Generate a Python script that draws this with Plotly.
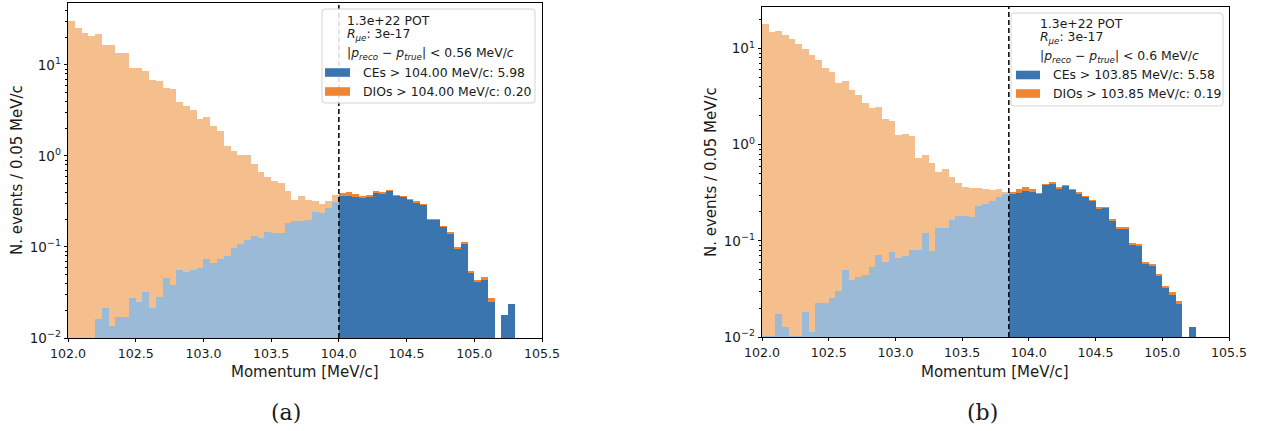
import plotly.graph_objects as go

# ---------------- data ----------------
BIN_W = 0.05
START = 102.0

# Panel (a): cut at 104.00 MeV/c
cut_a = 104.00
ce_a = [0, 0, 0, 0, 0.016, 0.0216, 0.0137, 0.0171, 0.0171, 0.0273,
        0.0249, 0.0318, 0.0216, 0.0283, 0.046, 0.0385, 0.0557, 0.053, 0.0557, 0.0586,
        0.0734, 0.067, 0.0734, 0.079, 0.098, 0.109, 0.118, 0.132, 0.125, 0.146,
        0.144, 0.142, 0.185, 0.195, 0.195, 0.197, 0.24, 0.235, 0.27, 0.31,
        0.366, 0.366, 0.357, 0.351, 0.357, 0.398, 0.388, 0.415, 0.366, 0.357,
        0.329, 0.31, 0.292, 0.199, 0.2, 0.168, 0.142, 0.096, 0.109, 0.0513,
        0.0415, 0.0444, 0.0251, 0, 0.018, 0.0236]
dio_a = [30.7, 25.3, 22.3, 21.0, 21.9, 16.6, 16.6, 13.6, 13.6, 9.27,
         9.28, 8.57, 6.78, 6.57, 5.55, 5.41, 3.89, 3.45, 3.14, 2.47,
         2.59, 2.08, 1.83, 1.21, 1.03, 0.92, 0.91, 0.68, 0.545, 0.444,
         0.386, 0.358, 0.225, 0.135, 0.165, 0.133, 0.08, 0.065, 0.05, 0.06,
         0.022, 0.032, 0.025, 0.006, 0.009, 0.017, 0.017, 0.007, 0.006, 0.003,
         0.003, 0.003, 0.003, 0.002, 0.002, 0.002, 0.002, 0.002, 0.003, 0.0034,
         0.002, 0.002, 0.0027, 0, 0, 0]

# Panel (b): cut at 103.85 MeV/c
cut_b = 103.85
ce_b = [0.0102, 0.0102, 0.0173, 0.0128, 0.0103, 0.0103, 0.0182, 0.0114, 0.0228, 0.0228,
        0.0254, 0.0302, 0.0499, 0.0393, 0.0425, 0.0443, 0.054, 0.0715, 0.061, 0.0762,
        0.0671, 0.0698, 0.0805, 0.0805, 0.12, 0.0787, 0.135, 0.135, 0.166, 0.182,
        0.182, 0.179, 0.228, 0.241, 0.263, 0.285, 0.313, 0.308, 0.318, 0.334,
        0.326, 0.308, 0.383, 0.398, 0.353, 0.373, 0.34, 0.313, 0.289, 0.263,
        0.219, 0.223, 0.163, 0.135, 0.135, 0.0909, 0.09, 0.0577, 0.055, 0.0436,
        0.0322, 0.0274, 0.0219, 0, 0.0126]
dio_b = [17.89, 14.89, 15.08, 13.69, 12.69, 11.29, 9.98, 8.49, 7.68, 6.28,
         5.67, 4.40, 4.55, 3.70, 3.22, 2.68, 2.36, 2.40, 1.81, 1.71,
         1.21, 1.21, 1.14, 0.64, 0.67, 0.56, 0.385, 0.425, 0.294, 0.218,
         0.185, 0.18, 0.125, 0.104, 0.077, 0.06, 0.013, 0.018, 0.027, 0.033,
         0.019, 0.005, 0.002, 0.006, 0.003, 0.003, 0.003, 0.002, 0.002, 0.002,
         0.002, 0.002, 0.002, 0.002, 0.002, 0.002, 0.002, 0.002, 0.002, 0.002,
         0.002, 0.002, 0.002, 0, 0]

x_ticks = [102.0, 102.5, 103.0, 103.5, 104.0, 104.5, 105.0, 105.5]
x_ticktext = ["102.0", "102.5", "103.0", "103.5", "104.0", "104.5", "105.0", "105.5"]
y_ticks = [0.01, 0.1, 1, 10]
y_ticktext = ["10<sup>\u22122</sup>", "10<sup>\u22121</sup>", "10<sup>0</sup>", "10<sup>1</sup>"]

legend_a = ["1.3e+22 POT", "<i>R</i><sub><i>\u03bce</i></sub>: 3e-17",
            "|<i>p</i><sub><i>reco</i></sub> \u2212 <i>p</i><sub><i>true</i></sub>| &lt; 0.56 MeV/<i>c</i>",
            "CEs &gt; 104.00 MeV/c: 5.98", "DIOs &gt; 104.00 MeV/c: 0.20"]
legend_b = ["1.3e+22 POT", "<i>R</i><sub><i>\u03bce</i></sub>: 3e-17",
            "|<i>p</i><sub><i>reco</i></sub> \u2212 <i>p</i><sub><i>true</i></sub>| &lt; 0.6 MeV/<i>c</i>",
            "CEs &gt; 103.85 MeV/c: 5.58", "DIOs &gt; 103.85 MeV/c: 0.19"]

# ---------------- styling ----------------
W, H = 1261, 431
BLUE = "#3b75af"
ORANGE = "#ef8636"
LBLUE = "#9bbad7"
LORANGE = "#f5bf8d"
FONT = "DejaVu Sans"
TXT = "#1a1a1a"


def px(x):
    return x / W


def py(y):
    return 1 - y / H


def centers(n):
    return [round(START + BIN_W * (i + 0.5), 4) for i in range(n)]


fig = go.Figure()


def add_panel(ce, dio, cut, xa, ya):
    xs = centers(len(ce))
    lo = [i for i, x in enumerate(xs) if x < cut]
    hi = [i for i, x in enumerate(xs) if x >= cut]
    common = dict(width=BIN_W, marker_line_width=0, showlegend=False,
                  xaxis=xa, yaxis=ya, hoverinfo="x+y")
    fig.add_trace(go.Bar(x=[xs[i] for i in lo], y=[ce[i] if ce[i] > 0 else None for i in lo],
                         marker_color=LBLUE, **common))
    fig.add_trace(go.Bar(x=[xs[i] for i in hi], y=[ce[i] if ce[i] > 0 else None for i in hi],
                         marker_color=BLUE, **common))
    fig.add_trace(go.Bar(x=[xs[i] for i in lo], y=[dio[i] if dio[i] > 0 else None for i in lo],
                         marker_color=LORANGE, **common))
    fig.add_trace(go.Bar(x=[xs[i] for i in hi], y=[dio[i] if dio[i] > 0 else None for i in hi],
                         marker_color=ORANGE, **common))


add_panel(ce_a, dio_a, cut_a, "x", "y")
add_panel(ce_b, dio_b, cut_b, "x2", "y2")

minor_vals = [m * 10 ** e for e in (-2, -1, 0, 1) for m in range(2, 10)]


def xaxis_cfg(x0, x1):
    return dict(domain=[px(x0), px(x1)], range=[102.0, 105.5], tickvals=x_ticks, ticktext=x_ticktext,
                ticks="outside", ticklen=3.5, tickwidth=0.8, tickcolor="black",
                showline=True, mirror=True, linecolor="black", linewidth=0.8,
                showgrid=False, zeroline=False, automargin=False,
                tickfont=dict(family=FONT, size=12.6, color=TXT))


def yaxis_cfg(y_top, y_bot, top_log, anchor):
    return dict(domain=[py(y_bot), py(y_top)], type="log", range=[-2, top_log],
                tickvals=y_ticks, ticktext=y_ticktext, anchor=anchor,
                ticks="outside", ticklen=3.5, tickwidth=0.8, tickcolor="black",
                minor=dict(tickvals=minor_vals, ticks="outside", ticklen=2, tickwidth=0.6,
                           tickcolor="black", showgrid=False),
                showline=True, mirror=True, linecolor="black", linewidth=0.8,
                showgrid=False, zeroline=False, automargin=False,
                tickfont=dict(family=FONT, size=13.5, color=TXT))


fig.update_layout(
    width=W, height=H, margin=dict(l=0, r=0, t=0, b=0, autoexpand=False),
    paper_bgcolor="white", plot_bgcolor="white",
    barmode="stack", bargap=0,
    xaxis=xaxis_cfg(68, 542) | dict(anchor="y"),
    yaxis=yaxis_cfg(3, 338, 1.681, "x"),
    xaxis2=xaxis_cfg(762, 1229) | dict(anchor="y2"),
    yaxis2=yaxis_cfg(7, 337, 1.433, "x2"),
)

shapes = []
annotations = []

# cut lines
for cut, xr, yr in ((cut_a, "x", "y domain"), (cut_b, "x2", "y2 domain")):
    shapes.append(dict(type="line", xref=xr, yref=yr, x0=cut, x1=cut, y0=0, y1=1,
                       line=dict(color="black", width=1.5, dash="5px,3px"), layer="above"))


def rounded_box(x0, y0, x1, y1, r=3):
    def P(x, y):
        return f"{px(x):.5f},{py(y):.5f}"
    return (f"M {P(x0 + r, y0)} L {P(x1 - r, y0)} Q {P(x1, y0)} {P(x1, y0 + r)} "
            f"L {P(x1, y1 - r)} Q {P(x1, y1)} {P(x1 - r, y1)} L {P(x0 + r, y1)} "
            f"Q {P(x0, y1)} {P(x0, y1 - r)} L {P(x0, y0 + r)} Q {P(x0, y0)} {P(x0 + r, y0)} Z")


def add_legend(texts, box, tx, ty, sw_x, ex):
    x0, y0, x1, y1 = box
    shapes.append(dict(type="path", xref="paper", yref="paper", path=rounded_box(x0, y0, x1, y1),
                       fillcolor="rgba(255,255,255,0.85)", line=dict(color="#d4d4d4", width=1),
                       layer="above"))
    for t, y in zip(texts[:3], ty[:3]):
        annotations.append(dict(text=t, x=px(tx), y=py(y), xref="paper", yref="paper",
                                xanchor="left", yanchor="middle", showarrow=False,
                                font=dict(family=FONT, size=12.4, color=TXT)))
    for t, y, c in zip(texts[3:], ty[3:], (BLUE, ORANGE)):
        shapes.append(dict(type="rect", xref="paper", yref="paper",
                           x0=px(sw_x[0]), x1=px(sw_x[1]), y0=py(y - 4.3), y1=py(y + 4.3),
                           fillcolor=c, line=dict(width=0), layer="above"))
        annotations.append(dict(text=t, x=px(ex), y=py(y), xref="paper", yref="paper",
                                xanchor="left", yanchor="middle", showarrow=False,
                                font=dict(family=FONT, size=12.4, color=TXT)))


add_legend(legend_a, (322, 9, 535, 103), 345, [20, 35, 53, 72.5, 91.5], (325, 350), 361)
add_legend(legend_b, (1011, 13, 1223, 106), 1038, [23.5, 38, 56, 75, 93.5], (1016, 1040), 1051)

# axis titles
for cx in (305, 995):
    annotations.append(dict(text="Momentum [MeV/c]", x=px(cx), y=py(372), xref="paper", yref="paper",
                            xanchor="center", yanchor="middle", showarrow=False,
                            font=dict(family=FONT, size=15, color=TXT)))
for cx, cy in ((17, 170), (711, 172)):
    annotations.append(dict(text="N. events / 0.05 MeV/c", x=px(cx), y=py(cy), xref="paper", yref="paper",
                            xanchor="center", yanchor="middle", showarrow=False, textangle=-90,
                            font=dict(family=FONT, size=15, color=TXT)))
# sub-captions
for t, cx in (("(a)", 286), ("(b)", 982)):
    annotations.append(dict(text=t, x=px(cx), y=py(412), xref="paper", yref="paper",
                            xanchor="center", yanchor="middle", showarrow=False,
                            font=dict(family="DejaVu Serif", size=22, color=TXT)))

fig.update_layout(shapes=shapes, annotations=annotations)
fig.write_html("out.html")
